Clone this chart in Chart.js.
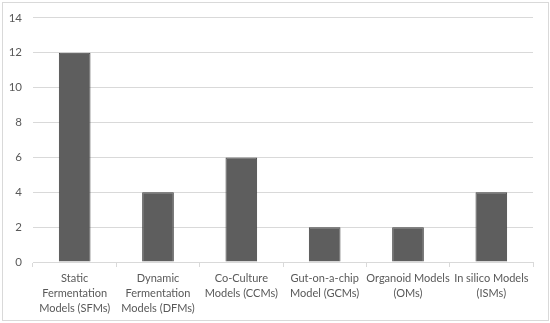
<!DOCTYPE html>
<html>
<head>
<meta charset="utf-8">
<script src="https://cdn.jsdelivr.net/npm/chart.js@4"></script>
<style>
  html, body { margin: 0; padding: 0; background: #fff; }
  #frame { position: absolute; left: 2px; top: 2px; width: 545px; height: 317px; border: 1px solid #d9d9d9; }
  #wrap { position: absolute; left: 0; top: 0; width: 550px; height: 323px; }
</style>
</head>
<body>
<div id="frame"></div>
<div id="wrap"><canvas id="chart" width="550" height="323"></canvas></div>
<script>
// categories, split into lines the way the original wraps them
const categories = [
    ['Static', 'Fermentation', 'Models (SFMs)'],
    ['Dynamic', 'Fermentation', 'Models (DFMs)'],
    ['Co-Culture', 'Models (CCMs)'],
    ['Gut-on-a-chip', 'Model (GCMs)'],
    ['Organoid Models', '(OMs)'],
    ['In silico Models', '(ISMs)']
]
const counts = [12, 4, 6, 2, 2, 4]
const yTicks = [0, 2, 4, 6, 8, 10, 12, 14]

const gray = '#595959'

new Chart(document.getElementById('chart'), {
    type: 'bar',
    data: {
        labels: categories,
        datasets: [{
            data: counts,
            backgroundColor: '#5e5e5e',
            borderColor: '#404040',
            borderWidth: 1,
            barPercentage: 1,
            categoryPercentage: 0.38
        }]
    },
    options: {
        responsive: false,
        animation: false,
        layout: { padding: { left: 0, right: 17, top: 7, bottom: 6 } },
        plugins: { legend: { display: false }, tooltip: { enabled: false } },
        scales: {
            x: {
                grid: {
                    offset: true,
                    drawOnChartArea: false,
                    drawTicks: true,
                    tickLength: 5,
                    color: '#d9d9d9'
                },
                border: { color: '#d9d9d9' },
                ticks: {
                    color: gray,
                    font: { family: 'Lato', size: 11, lineHeight: 1.36 },
                    padding: 4,
                    maxRotation: 0,
                    autoSkip: false
                },
                afterFit: axis => { axis.height = 55 }
            },
            y: {
                min: 0,
                max: 14,
                afterBuildTicks: axis => { axis.ticks = yTicks.map(v => ({ value: v })) },
                afterFit: axis => { axis.width = 33 },
                grid: { color: '#d9d9d9', drawTicks: false },
                border: { display: false },
                ticks: {
                    color: gray,
                    font: { family: 'Lato', size: 11.5 },
                    padding: 11
                }
            }
        }
    }
})
</script>
</body>
</html>
